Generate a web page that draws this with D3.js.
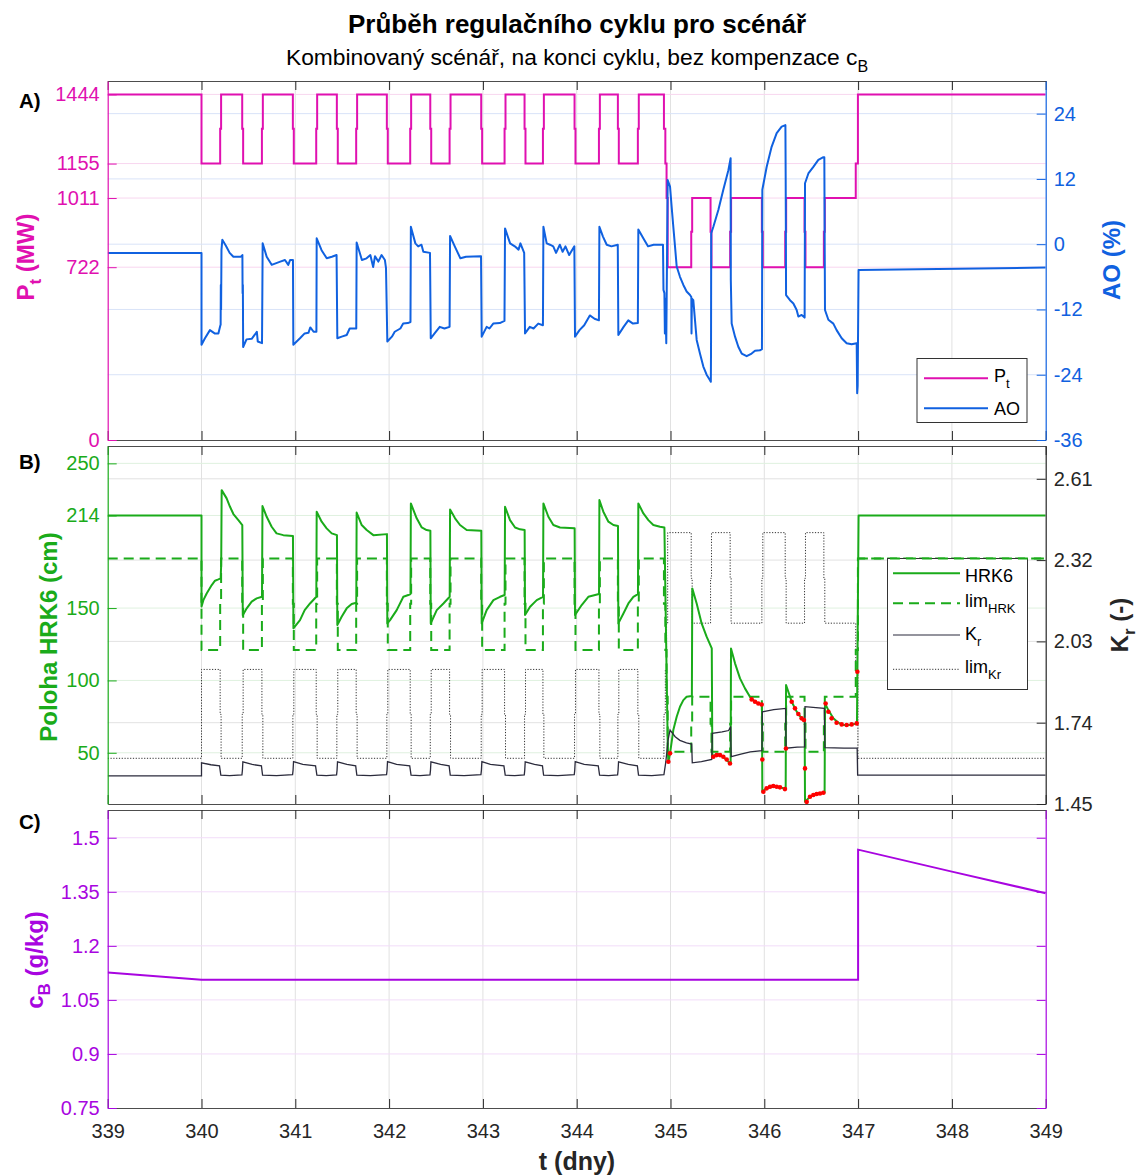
<!DOCTYPE html>
<html><head><meta charset="utf-8">
<script src="https://cdn.jsdelivr.net/npm/d3@7"></script>
<style>body{margin:0;background:#fff;} svg{display:block;} text{white-space:pre;}</style>
</head><body><svg id="c" width="1139" height="1175"></svg>
<script>
// ---------------- DATA ----------------
const xTicks = [339,340,341,342,343,344,345,346,347,348,349];
const ptTicks = [0,722,1011,1155,1444];
const aoTicks = [-36,-24,-12,0,12,24];
const hrkTicks = [50,100,150,214,250];
const krTicks = [1.45,1.74,2.03,2.32,2.61];
const cbTicks = [0.75,0.9,1.05,1.2,1.35,1.5];

// change times of the power programme (step-after)
const stepTimes = [339,340.0,
 340.199,340.209,340.434,340.444,340.644,340.654,340.974,340.984,
 341.223,341.233,341.443,341.453,341.649,341.659,341.976,341.986,
 342.225,342.235,342.439,342.449,342.645,342.655,342.982,342.992,
 343.231,343.241,343.444,343.454,343.640,343.650,343.977,343.987,
 344.237,344.247,344.439,344.449,344.652,344.662,
 344.930,344.945,344.958,344.970,
 345.221,345.231,345.427,345.437,345.636,345.646,345.974,345.984,
 346.223,346.233,346.429,346.439,346.635,346.645,
 346.975,346.998,349];
const ptValues = [1444,1155,
 1300,1444,1300,1155,1300,1444,1300,1155,
 1300,1444,1300,1155,1300,1444,1300,1155,
 1300,1444,1300,1155,1300,1444,1300,1155,
 1300,1444,1300,1155,1300,1444,1300,1155,
 1300,1444,1300,1155,1300,1444,
 1300,1155,1011,722,
 870,1011,870,722,870,1011,870,722,
 870,1011,870,722,870,1011,
 1155,1444,1444];
const limHrkValues = [184.3,121,
 153,184.3,153,121,153,184.3,153,121,
 153,184.3,153,121,153,184.3,153,121,
 153,184.3,153,121,153,184.3,153,121,
 153,184.3,153,121,153,184.3,153,121,
 153,184.3,153,121,153,184.3,
 153,121,88.7,50.7,
 70,88.7,70,50.7,70,88.7,70,50.7,
 70,88.7,70,50.7,70,88.7,
 121,184.3,184.3];
const limKrValues = [1.613,1.93,
 1.77,1.613,1.77,1.93,1.77,1.613,1.77,1.93,
 1.77,1.613,1.77,1.93,1.77,1.613,1.77,1.93,
 1.77,1.613,1.77,1.93,1.77,1.613,1.77,1.93,
 1.77,1.613,1.77,1.93,1.77,1.613,1.77,1.93,
 1.77,1.613,1.77,1.93,1.77,1.613,
 1.77,1.93,2.095,2.418,
 2.255,2.095,2.255,2.418,2.255,2.095,2.255,2.418,
 2.255,2.095,2.255,2.418,2.255,2.095,
 1.93,1.613,1.613];

// axial offset AO (%) [t, value]
const aoSeries = [
[339,-1.6],[340.0,-1.6],[340.0,-18.5],[340.037,-17.3],[340.09,-15.8],[340.14,-16.4],[340.18,-16.4],[340.2,-15.0],[340.204,-14.8],[340.206,-7.5],[340.209,-12],[340.213,-1],[340.222,0.8],[340.26,-0.3],[340.3,-1.6],[340.34,-2.3],[340.42,-2.3],[340.436,-2.0],[340.438,-9],[340.441,-7.5],[340.444,-18.9],[340.48,-17.5],[340.535,-17.4],[340.57,-16.6],[340.59,-16.1],[340.6,-17.9],[340.645,-18.2],[340.649,-8],[340.652,0.15],[340.695,-2.3],[340.748,-3.8],[340.84,-3.2],[340.89,-2.9],[340.925,-3.8],[340.945,-2.9],[340.975,-2.9],
[340.979,-18.5],[341.05,-17.3],[341.1,-16.4],[341.14,-16.3],[341.16,-15.3],[341.195,-16.1],[341.225,-16.1],[341.228,1.07],[341.28,-1.1],[341.335,-2.6],[341.39,-2.3],[341.44,-2.0],[341.448,-17.3],[341.495,-17.0],[341.548,-16.7],[341.58,-15.5],[341.65,-15.5],[341.654,0.3],[341.71,-2.9],[341.76,-2.6],[341.8,-2.0],[341.83,-4.2],[341.85,-2.2],[341.885,-3.2],[341.92,-2.0],[341.955,-2.9],[341.967,-4.4],
[341.981,-17.9],[342.03,-17.0],[342.06,-16.1],[342.12,-15.5],[342.15,-14.6],[342.2,-14.5],[342.228,-14.3],[342.232,3.2],[342.28,0.15],[342.31,-0.4],[342.345,-0.1],[342.365,-1.4],[342.436,-1.6],[342.444,-17.3],[342.485,-16.4],[342.54,-15.2],[342.59,-15.5],[342.645,-15.2],[342.65,1.5],[342.7,-0.4],[342.76,-2.6],[342.82,-2.3],[342.98,-2.2],
[342.987,-17.0],[343.04,-15.2],[343.07,-15.5],[343.11,-14.6],[343.18,-14.5],[343.23,-14.1],[343.236,2.9],[343.29,0.15],[343.34,-0.4],[343.38,-1.0],[343.4,0.15],[343.44,-1.6],[343.449,-16.4],[343.5,-15.2],[343.54,-15.5],[343.59,-14.6],[343.64,-14.9],[343.645,3.2],[343.68,0.15],[343.715,-0.1],[343.75,-0.4],[343.78,-1.6],[343.82,-0.1],[343.85,-1.4],[343.88,-0.4],[343.92,-2.0],[343.975,-0.4],
[343.982,-17.0],[344.03,-15.8],[344.08,-14.9],[344.14,-13.1],[344.19,-13.7],[344.237,-14.0],[344.242,3.2],[344.28,1.4],[344.32,-0.1],[344.37,-0.4],[344.438,-0.1],[344.444,-16.7],[344.5,-15.2],[344.55,-14.0],[344.6,-14.6],[344.652,-14.5],[344.657,2.7],[344.71,1.07],[344.76,-0.4],[344.82,-0.1],[344.92,-0.1],
[344.925,-8.4],[344.935,-9.0],[344.94,-16.4],[344.945,-10],[344.955,-18.2],[344.97,11.8],[344.995,10.6],[345.012,6.9],[345.03,3.2],[345.048,-0.4],[345.066,-4.1],[345.101,-6.0],[345.137,-7.5],[345.172,-8.7],[345.208,-9.35],[345.222,-9.7],[345.224,-16.4],[345.228,-10.0],[345.243,-10.3],[345.279,-17.6],[345.314,-20.1],[345.35,-22.5],[345.385,-24.0],[345.421,-25.0],[345.43,-25.3],[345.432,-19.5],[345.434,2.0],[345.457,3.2],[345.51,6.3],[345.563,10.0],[345.617,13.6],[345.641,15.8],[345.643,-6.6],[345.652,-14.6],[345.688,-17.0],[345.723,-18.85],[345.759,-20.1],[345.812,-20.6],[345.865,-20.1],[345.901,-19.6],[345.954,-19.5],[345.975,-19.3],
[345.979,10.0],[346.025,14.2],[346.078,17.9],[346.132,20.4],[346.185,21.6],[346.225,21.9],[346.228,11.8],[346.232,-9.35],[346.274,-10.3],[346.31,-10.9],[346.345,-12.1],[346.363,-13.3],[346.398,-13.0],[346.43,-13.5],[346.434,11.2],[346.47,13.0],[346.523,14.2],[346.576,15.5],[346.63,16.0],[346.64,16.0],[346.642,7.5],[346.647,-12.1],[346.683,-13.9],[346.736,-14.6],[346.771,-15.8],[346.825,-17.3],[346.878,-18.2],[346.931,-18.4],[346.985,-18.2],[346.99,-27.4],[346.995,-26],[347.005,-4.75],[349,-4.3]];

// HRK6 rod position (cm)
const hrkSeries = [
[339,214],[340,214],[340,151],[340.02,155.5],[340.055,160.1],[340.109,165.9],[340.144,168.9],[340.18,169.8],[340.204,170.5],[340.21,180],[340.215,231.5],[340.268,225.8],[340.304,220],[340.34,215],[340.393,210.8],[340.435,207.4],[340.44,145],[340.482,149.8],[340.535,154.4],[340.588,156.7],[340.645,157.8],[340.65,220.5],[340.695,213.1],[340.748,206.2],[340.8,201.6],[340.872,200.4],[340.975,199.8],
[340.98,136],[341.05,141.7],[341.1,148.6],[341.157,153.2],[341.224,157.8],[341.228,216.6],[341.281,209.7],[341.334,205.1],[341.388,201.6],[341.444,200.4],[341.448,138.3],[341.494,144],[341.548,149.8],[341.601,152.8],[341.65,153.7],[341.654,216],[341.708,207.4],[341.761,203.9],[341.832,200.4],[341.977,201.1],
[341.981,139.4],[342.01,141.7],[342.081,148.6],[342.152,157.8],[342.205,159],[342.228,159.7],[342.232,222.3],[342.294,212],[342.348,205.7],[342.4,203.9],[342.44,203.4],[342.444,139.4],[342.508,148.6],[342.579,153.2],[342.646,157.8],[342.65,218.2],[342.703,212],[342.756,207.4],[342.827,203.9],[342.983,203.4],
[342.987,139.4],[343.04,148.6],[343.112,155.5],[343.183,157.8],[343.232,159],[343.236,220],[343.289,210.8],[343.343,205.7],[343.396,204.4],[343.445,203.9],[343.449,145.2],[343.503,150.9],[343.574,155.5],[343.641,157.8],[343.645,222.3],[343.698,213.1],[343.751,207.4],[343.822,205.7],[343.978,205.1],
[343.982,145.2],[344.053,152.1],[344.124,157.8],[344.238,159.7],[344.242,224.6],[344.284,216.6],[344.338,209.7],[344.391,207.4],[344.44,206.7],[344.444,139.4],[344.498,146.3],[344.551,153.2],[344.604,157.8],[344.653,159.7],[344.657,222.3],[344.711,215.4],[344.764,210.8],[344.817,207.4],[344.888,206.2],[344.935,205.7],
[344.955,120],[344.972,50],[344.977,43.8],[344.995,49.6],[345.03,65.7],[345.066,74.9],[345.101,81.8],[345.137,86.4],[345.172,88.7],[345.228,89.2],[345.232,163.6],[345.279,153.2],[345.332,139.4],[345.385,130.2],[345.44,122.1],[345.446,47.3],[345.474,48.4],[345.51,49.1],[345.563,47.3],[345.617,43.8],[345.641,42.2],[345.645,122.1],[345.688,111.8],[345.741,101.4],[345.794,94.5],[345.847,88.7],[345.901,85.3],[345.975,83],
[345.979,23.1],[346.025,25.4],[346.078,26.5],[346.132,26.5],[346.185,25.8],[346.228,24.9],[346.232,96.8],[346.292,85.3],[346.345,78.4],[346.398,73.8],[346.43,72.6],[346.434,16.1],[346.487,19.6],[346.54,21.5],[346.594,21.9],[346.643,22.4],[346.647,84.1],[346.683,79.5],[346.736,73.8],[346.789,70.8],[346.842,69.2],[346.914,69.2],[346.988,70.3],[346.992,106],[347.005,214],[349,214]];

// points marked red on HRK6
const hrkRedDots = [
[344.977,43.8],[344.995,49.6],[345.457,47.3],[345.492,48.4],[345.528,48.4],[345.563,47.3],[345.599,45.4],[345.634,42.6],
[345.865,86.9],[345.901,85.3],[345.936,84.1],[345.972,83.4],[345.979,45.4],[345.99,23.1],[346.025,25.4],[346.061,26.5],[346.096,27],[346.132,26.5],[346.167,26.1],[346.22,24.9],
[346.231,53],[346.292,85.3],[346.327,80.7],[346.363,76.8],[346.398,73.8],[346.423,72.6],[346.434,39.2],[346.452,16.1],[346.487,19.6],[346.523,20.8],[346.558,21.5],[346.594,21.9],[346.63,22.4],
[346.654,84.1],[346.683,78.4],[346.718,73.8],[346.771,70.8],[346.825,69.6],[346.878,69.2],[346.931,69.6],[346.985,70.3],[346.992,106]];

// Kr (-)
const krSeries = [
[339,1.55],[340,1.55],[340,1.597],[340.1,1.59],[340.192,1.586],[340.198,1.572],[340.206,1.553],[340.3,1.551],[340.431,1.554],[340.436,1.57],[340.441,1.6],[340.54,1.591],[340.639,1.586],[340.644,1.572],[340.651,1.553],[340.8,1.551],[340.971,1.555],[340.976,1.57],[340.981,1.601],
[341.08,1.591],[341.216,1.586],[341.222,1.572],[341.23,1.553],[341.33,1.551],[341.44,1.554],[341.445,1.57],[341.45,1.6],[341.55,1.591],[341.644,1.586],[341.649,1.572],[341.656,1.553],[341.8,1.551],[341.973,1.555],[341.978,1.57],[341.983,1.601],
[342.08,1.591],[342.22,1.586],[342.226,1.572],[342.234,1.553],[342.33,1.551],[342.436,1.554],[342.441,1.57],[342.446,1.6],[342.55,1.591],[342.64,1.586],[342.645,1.572],[342.652,1.553],[342.8,1.551],[342.979,1.555],[342.984,1.57],[342.989,1.601],
[343.08,1.591],[343.224,1.586],[343.23,1.572],[343.238,1.553],[343.34,1.551],[343.441,1.554],[343.446,1.57],[343.451,1.6],[343.55,1.591],[343.635,1.586],[343.64,1.572],[343.647,1.553],[343.8,1.551],[343.974,1.555],[343.979,1.57],[343.984,1.601],
[344.08,1.591],[344.23,1.586],[344.236,1.572],[344.244,1.553],[344.34,1.551],[344.436,1.554],[344.441,1.57],[344.446,1.6],[344.55,1.591],[344.647,1.586],[344.652,1.572],[344.659,1.553],[344.8,1.551],[344.93,1.555],
[344.95,1.6],[344.975,1.68],[344.995,1.714],[345.05,1.69],[345.1,1.677],[345.17,1.668],[345.226,1.664],[345.232,1.597],[345.33,1.601],[345.44,1.609],[345.446,1.702],[345.55,1.707],[345.62,1.712],[345.641,1.726],[345.647,1.619],[345.75,1.628],[345.85,1.636],[345.975,1.64],[345.979,1.779],[346.1,1.787],[346.228,1.791],[346.232,1.649],[346.35,1.653],[346.43,1.654],[346.434,1.797],[346.55,1.794],[346.64,1.791],[346.647,1.651],[346.85,1.649],[346.99,1.649],[346.995,1.553],[349,1.553]];

// boron concentration cB (g/kg)
const cbSeries = [[339,1.126],[340,1.106],[347,1.106],[347,1.467],[348,1.406],[349,1.346]];

// ---------------- STYLE / LAYOUT ----------------
const FONT = '"Liberation Sans", Arial, Helvetica, sans-serif';
const C_PT = "#e010b0", C_AO = "#1061e0", C_GR = "#1aab1a", C_KR = "#2b2b3c", C_CB = "#a805e0", C_AX = "#262626";
const X0 = 107.7, X1 = 1045.7;
const PA = {top:81, bot:440}, PB = {top:446, bot:804}, PC = {top:810, bot:1108};

const svg = d3.select("#c").attr("font-family", FONT);
const x = d3.scaleLinear().domain([339,349]).range([X0,X1]);
const yPt = d3.scaleLinear().domain([0,1500]).range([PA.bot,PA.top]);
const yAO = d3.scaleLinear().domain([-36,30]).range([PA.bot,PA.top]);
const yHRK = d3.scaleLinear().domain([14.6,262]).range([PB.bot,PB.top]);
const yKr = d3.scaleLinear().domain([1.45,2.727]).range([PB.bot,PB.top]);
const yCB = d3.scaleLinear().domain([0.75,1.577]).range([PC.bot,PC.top]);

const defs = svg.append("defs");
[["clipA",PA],["clipB",PB],["clipC",PC]].forEach(([id,p]) => {
  defs.append("clipPath").attr("id",id).append("rect")
    .attr("x",X0).attr("y",p.top).attr("width",X1-X0).attr("height",p.bot-p.top);
});

function vgrid(p){
  svg.append("g").selectAll("line").data(xTicks.slice(1,-1)).join("line")
    .attr("x1",d=>x(d)).attr("x2",d=>x(d)).attr("y1",p.top).attr("y2",p.bot)
    .attr("stroke","#e1e1e1").attr("stroke-width",1);
}
function hgrid(scale, ticks, color){
  svg.append("g").selectAll("line").data(ticks).join("line")
    .attr("x1",X0).attr("x2",X1).attr("y1",d=>scale(d)).attr("y2",d=>scale(d))
    .attr("stroke",color).attr("stroke-width",1);
}
function xAxes(p, labels){
  const gb = svg.append("g").attr("transform",`translate(0,${p.bot})`)
    .call(d3.axisBottom(x).tickValues(xTicks).tickSizeInner(-9).tickSizeOuter(0).tickPadding(16)
      .tickFormat(labels ? d=>String(d) : ()=>""));
  gb.attr("font-size",20).attr("font-family",FONT);
  gb.select(".domain").attr("stroke","#4d4d4d");
  gb.selectAll(".tick line").attr("stroke",C_AX);
  gb.selectAll(".tick text").attr("fill",C_AX);
  const gt = svg.append("g").attr("transform",`translate(0,${p.top})`)
    .call(d3.axisTop(x).tickValues(xTicks).tickSizeInner(-9).tickSizeOuter(0).tickFormat(()=>""));
  gt.select(".domain").attr("stroke","#4d4d4d");
  gt.selectAll(".tick line").attr("stroke",C_AX);
}
function yAxis(scale, ticks, side, color, labels){
  const ax = side==="left" ? d3.axisLeft(scale) : d3.axisRight(scale);
  const g = svg.append("g").attr("transform",`translate(${side==="left"?X0:X1},0)`)
    .call(ax.tickValues(ticks).tickSizeInner(-9).tickSizeOuter(0).tickPadding(8)
      .tickFormat(labels ? d=>String(d) : ()=>""));
  g.attr("font-size",20).attr("font-family",FONT);
  g.select(".domain").attr("stroke",color).attr("stroke-width",1.2);
  g.selectAll(".tick line").attr("stroke",color);
  g.selectAll(".tick text").attr("fill",color);
}
function rich(textSel, parts, subSize, shift){
  parts.forEach(([s,sub],i) => {
    const ts = textSel.append("tspan").text(s);
    if(sub) ts.attr("font-size",subSize).attr("dy",shift);
    else if(i>0 && parts[i-1][1]) ts.attr("dy",-shift);
  });
  return textSel;
}
function yLabel(bx, cy, parts, color){
  const t = svg.append("text").attr("transform",`translate(${bx},${cy}) rotate(-90)`)
    .attr("text-anchor","middle").attr("font-size",24).attr("font-weight","bold").attr("fill",color);
  rich(t, parts, 17, 7);
}

const lineXY = (sx, sy) => d3.line().x(d=>x(d[0])).y(d=>sy(d[1]));
const stepXY = (sy) => d3.line().x(d=>x(d[0])).y(d=>sy(d[1])).curve(d3.curveStepAfter);

const ptSteps = d3.zip(stepTimes, ptValues);
const limHrkSteps = d3.zip(stepTimes, limHrkValues);
const limKrSteps = d3.zip(stepTimes, limKrValues);

// ---------------- PANEL A ----------------
vgrid(PA);
hgrid(yPt, ptTicks.slice(1), "#f8d6ef");
hgrid(yAO, aoTicks.slice(1), "#d9e3f8");
const gA = svg.append("g").attr("clip-path","url(#clipA)");
gA.append("path").datum(ptSteps).attr("d", stepXY(yPt)).attr("fill","none").attr("stroke",C_PT).attr("stroke-width",2);
gA.append("path").datum(aoSeries).attr("d", lineXY(x,yAO)).attr("fill","none").attr("stroke",C_AO).attr("stroke-width",2).attr("stroke-linejoin","round");
xAxes(PA,false);
yAxis(yPt, ptTicks, "left", C_PT, true);
yAxis(yAO, aoTicks, "right", C_AO, true);

// ---------------- PANEL B ----------------
vgrid(PB);
hgrid(yKr, krTicks.slice(1), "#e2e2e2");
hgrid(yHRK, hrkTicks, "#dff1df");
const gB = svg.append("g").attr("clip-path","url(#clipB)");
gB.append("path").datum(limKrSteps).attr("d", stepXY(yKr)).attr("fill","none").attr("stroke","#333").attr("stroke-width",1).attr("stroke-dasharray","1.2,1.6");
gB.append("path").datum(limHrkSteps).attr("d", stepXY(yHRK)).attr("fill","none").attr("stroke",C_GR).attr("stroke-width",2).attr("stroke-dasharray","10,6");
gB.append("path").datum(hrkSeries).attr("d", lineXY(x,yHRK)).attr("fill","none").attr("stroke",C_GR).attr("stroke-width",2).attr("stroke-linejoin","round");
gB.append("path").datum(krSeries).attr("d", lineXY(x,yKr)).attr("fill","none").attr("stroke",C_KR).attr("stroke-width",1.3);
gB.append("g").selectAll("circle").data(hrkRedDots).join("circle")
  .attr("cx",d=>x(d[0])).attr("cy",d=>yHRK(d[1])).attr("r",2.3).attr("fill","#ff0000");
xAxes(PB,false);
yAxis(yHRK, hrkTicks, "left", C_GR, true);
yAxis(yKr, krTicks, "right", C_AX, true);

// ---------------- PANEL C ----------------
vgrid(PC);
hgrid(yCB, cbTicks.slice(1), "#f2dcf9");
const gC = svg.append("g").attr("clip-path","url(#clipC)");
gC.append("path").datum(cbSeries).attr("d", lineXY(x,yCB)).attr("fill","none").attr("stroke",C_CB).attr("stroke-width",2);
xAxes(PC,true);
yAxis(yCB, cbTicks, "left", C_CB, true);
yAxis(yCB, cbTicks, "right", C_CB, false);

// ---------------- TEXTS ----------------
svg.append("text").attr("x",577).attr("y",33).attr("text-anchor","middle").attr("font-size",26).attr("font-weight","bold").attr("fill","#000")
  .text("Průběh regulačního cyklu pro scénář");
rich(svg.append("text").attr("x",577).attr("y",65).attr("text-anchor","middle").attr("font-size",22.8).attr("fill","#000"),
  [["Kombinovaný scénář, na konci cyklu, bez kompenzace c",false],["B",true]], 16, 7);
svg.append("text").attr("x",577).attr("y",1170).attr("text-anchor","middle").attr("font-size",25).attr("font-weight","bold").attr("fill",C_AX).text("t (dny)");
[["A)",108],["B)",469],["C)",829]].forEach(([s,yy]) => {
  svg.append("text").attr("x",19).attr("y",yy).attr("font-size",20.5).attr("font-weight","bold").attr("fill","#000").text(s);
});
yLabel(34, 257, [["P",false],["t",true],[" (MW)",false]], C_PT);
yLabel(1120, 260, [["AO (%)",false]], C_AO);
yLabel(57, 637, [["Poloha HRK6 (cm)",false]], C_GR);
yLabel(1128, 625, [["K",false],["r",true],[" (-)",false]], C_AX);
yLabel(43, 960, [["c",false],["B",true],[" (g/kg)",false]], C_CB);

// ---------------- LEGENDS ----------------
const legA = svg.append("g");
legA.append("rect").attr("x",917).attr("y",358.5).attr("width",110).attr("height",64).attr("fill","#fff").attr("stroke","#333").attr("stroke-width",1);
legA.append("line").attr("x1",924).attr("x2",988).attr("y1",378.3).attr("y2",378.3).attr("stroke",C_PT).attr("stroke-width",2);
legA.append("line").attr("x1",924).attr("x2",988).attr("y1",408.3).attr("y2",408.3).attr("stroke",C_AO).attr("stroke-width",2);
rich(legA.append("text").attr("x",994).attr("y",382).attr("font-size",18).attr("fill","#000"), [["P",false],["t",true]], 13, 6);
legA.append("text").attr("x",994).attr("y",415).attr("font-size",18).attr("fill","#000").text("AO");

const legB = svg.append("g");
legB.append("rect").attr("x",887.5).attr("y",558.5).attr("width",140).attr("height",131).attr("fill","#fff").attr("stroke","#333").attr("stroke-width",1);
legB.append("line").attr("x1",893).attr("x2",960).attr("y1",573.3).attr("y2",573.3).attr("stroke",C_GR).attr("stroke-width",2);
legB.append("line").attr("x1",893).attr("x2",960).attr("y1",603.3).attr("y2",603.3).attr("stroke",C_GR).attr("stroke-width",2).attr("stroke-dasharray","10,6");
legB.append("line").attr("x1",893).attr("x2",960).attr("y1",635).attr("y2",635).attr("stroke",C_KR).attr("stroke-width",1.2);
legB.append("line").attr("x1",893).attr("x2",960).attr("y1",669.3).attr("y2",669.3).attr("stroke","#333").attr("stroke-width",1).attr("stroke-dasharray","1.2,1.6");
legB.append("text").attr("x",965).attr("y",582).attr("font-size",18).attr("fill","#000").text("HRK6");
rich(legB.append("text").attr("x",965).attr("y",607).attr("font-size",18).attr("fill","#000"), [["lim",false],["HRK",true]], 13, 6);
rich(legB.append("text").attr("x",965).attr("y",640).attr("font-size",18).attr("fill","#000"), [["K",false],["r",true]], 13, 6);
rich(legB.append("text").attr("x",965).attr("y",673).attr("font-size",18).attr("fill","#000"), [["lim",false],["Kr",true]], 13, 6);
// green dashed limit passes over the legend's top edge as in the original
svg.append("path").datum(limHrkSteps.filter(d=>d[0]>=346.998)).attr("d", stepXY(yHRK)).attr("fill","none").attr("stroke",C_GR).attr("stroke-width",2).attr("stroke-dasharray","10,6").attr("clip-path","url(#clipB)");
</script></body></html>
